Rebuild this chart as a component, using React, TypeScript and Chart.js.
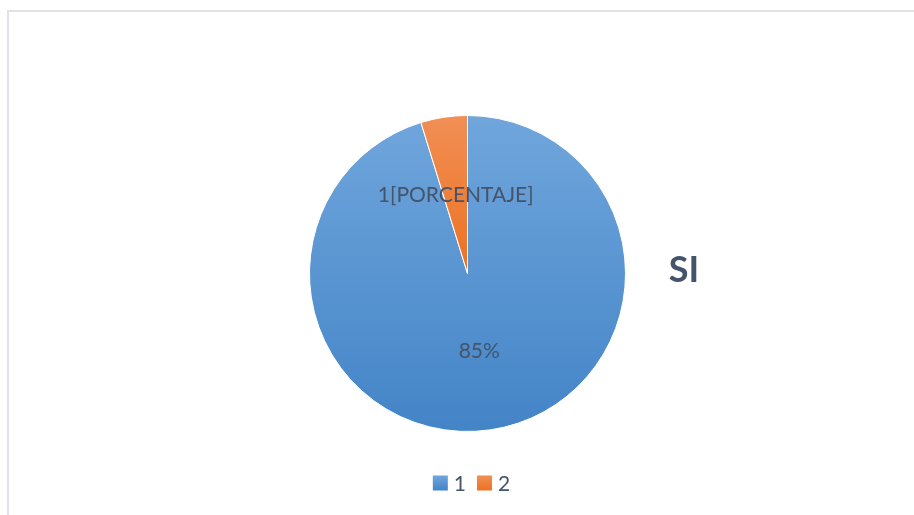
import React, { useEffect, useRef } from "react";
import { Chart, registerables } from "chart.js";
Chart.register(...registerables);

const categories = ["1", "2"];
const values = [20, 1];
const dataLabels = ["85%", "1[PORCENTAJE]"];
const chartTitle = "SI";

const topColors = ["#70a6dc", "#f18f55"];
const bottomColors = ["#4384c7", "#ed7122"];
const textColor = "#44546a";
const fontFamily = "Lato, 'Open Sans', sans-serif";

function sliceFill(ctx: any, i: number) {
  const chart = ctx.chart;
  const area = chart.chartArea;
  if (!area) return topColors[i];
  const y0 = area.top;
  const y1 = i === 0 ? area.bottom : (area.top + area.bottom) / 2;
  const g = chart.ctx.createLinearGradient(0, y0, 0, y1);
  g.addColorStop(0, topColors[i]);
  g.addColorStop(1, bottomColors[i]);
  return g;
}

const labelPlugin = {
  id: "sliceLabels",
  afterDatasetsDraw(chart: any) {
    const ctx = chart.ctx;
    const meta = chart.getDatasetMeta(0);
    ctx.save();
    ctx.fillStyle = textColor;
    ctx.textAlign = "center";
    ctx.textBaseline = "middle";
    ctx.font = `21px ${fontFamily}`;
    meta.data.forEach((arc: any, i: number) => {
      const p = arc.tooltipPosition();
      ctx.fillText(dataLabels[i], p.x, p.y);
    });

    // title on the right
    const area = chart.chartArea;
    ctx.font = `bold 36px ${fontFamily}`;
    ctx.fillText(chartTitle, area.right + 58, (area.top + area.bottom) / 2 - 3);

    // legend at bottom
    ctx.font = `21px ${fontFamily}`;
    ctx.textAlign = "left";
    const box = 15;
    const gapBoxText = 6;
    const gapItems = 11;
    const widths = categories.map((c) => box + gapBoxText + ctx.measureText(c).width);
    const total = widths.reduce((a, b) => a + b, 0) + gapItems * (categories.length - 1);
    let x = (area.left + area.right) / 2 + 4 - total / 2;
    const cy = 483;
    categories.forEach((c, i) => {
      const g = ctx.createLinearGradient(0, cy - box / 2, 0, cy + box / 2);
      g.addColorStop(0, topColors[i]);
      g.addColorStop(1, bottomColors[i]);
      ctx.fillStyle = g;
      ctx.fillRect(x, cy - box / 2, box, box);
      ctx.fillStyle = textColor;
      ctx.fillText(c, x + box + gapBoxText, cy + 1);
      x += widths[i] + gapItems;
    });
    ctx.restore();
  },
};

export default function App() {
  const ref = useRef<HTMLCanvasElement>(null);
  useEffect(() => {
    if (!ref.current) return;
    const chart = new Chart(ref.current, {
      type: "pie",
      data: {
        labels: categories,
        datasets: [
          {
            data: values,
            backgroundColor: (ctx: any) => sliceFill(ctx, ctx.dataIndex),
            borderColor: "#ffffff",
            borderWidth: 1,
          },
        ],
      },
      options: {
        responsive: false,
        animation: false,
        layout: { padding: { left: 309, right: 288, top: 115, bottom: 83 } },
        plugins: {
          legend: { display: false },
          tooltip: { enabled: false },
          title: { display: false },
        },
      },
      plugins: [labelPlugin],
    });
    return () => chart.destroy();
  }, []);

  return (
    <div style={{ position: "fixed", inset: 0, overflow: "hidden", background: "#fff" }}>
      <div
        style={{
          position: "absolute",
          left: 7,
          top: 10,
          width: 940,
          height: 540,
          borderTop: "2px solid #dfe3e8",
          borderLeft: "2px solid #dfe3e8",
        }}
      />
      <canvas
        ref={ref}
        width={914}
        height={515}
        style={{ position: "absolute", left: 0, top: 0, width: 914, height: 515 }}
      />
    </div>
  );
}
